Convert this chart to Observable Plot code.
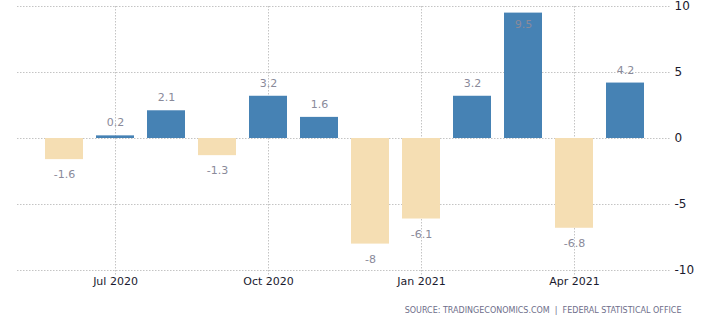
<!DOCTYPE html>
<html><head><meta charset="utf-8">
<script src="https://cdn.jsdelivr.net/npm/d3@7"></script>
<script src="https://cdn.jsdelivr.net/npm/@observablehq/plot@0.6"></script>
<style>body{margin:0;background:#fff;} #chart svg{display:block;}</style>
</head><body><div id="chart"></div>
<script>
const months = ["Jun 2020","Jul 2020","Aug 2020","Sep 2020","Oct 2020","Nov 2020","Dec 2020","Jan 2021","Feb 2021","Mar 2021","Apr 2021","May 2021"];
const values = [-1.6, 0.2, 2.1, -1.3, 3.2, 1.6, -8, -6.1, 3.2, 9.5, -6.8, 4.2];
const tickMonths = ["Jul 2020","Oct 2020","Jan 2021","Apr 2021"];
const yTicks = [-10, -5, 0, 5, 10];
const source = "SOURCE: TRADINGECONOMICS.COM  |  FEDERAL STATISTICAL OFFICE";

const data = months.map((m, i) => ({month: m, value: values[i]}));
const gridColor = "#c4c4c4";
const labelColor = "#8a8a9a";

const chart = Plot.plot({
  width: 701, height: 321,
  marginLeft: 17, marginRight: 31, marginTop: 6, marginBottom: 51,
  style: {fontFamily: "DejaVu Sans", fontSize: "11px", background: "#fff", overflow: "visible"},
  x: {type: "band", domain: months, range: [45, 644], paddingInner: 0.26, paddingOuter: 0, axis: null, label: null},
  y: {domain: [-10, 10], axis: null, label: null},
  marks: [
    Plot.gridY(yTicks, {stroke: gridColor, strokeOpacity: 1, strokeDasharray: "1.5,1.5"}),
    Plot.gridX(tickMonths, {stroke: gridColor, strokeOpacity: 1, strokeDasharray: "1.5,1.5"}),
    Plot.axisX(tickMonths, {anchor: "bottom", label: null, tickSize: 5, tickPadding: 2, stroke: gridColor, strokeDasharray: "1.5,1.5", fill: "#1a1a2e", fontSize: 11}),
    Plot.axisY(yTicks, {anchor: "right", label: null, tickSize: 0, tickPadding: 4, textAnchor: "start", fill: "#1a1a2e", fontSize: 12, tickFormat: d => String(d)}),
    Plot.barY(data, {filter: d => d.value >= 0, x: "month", y: "value", fill: "#4682b4"}),
    Plot.barY(data, {filter: d => d.value < 0, x: "month", y: "value", fill: "#f5deb3"}),
    Plot.text(data, {filter: d => d.value >= 0 && d.value < 9, x: "month", y: "value", text: d => String(d.value), dy: -13, fill: labelColor}),
    Plot.text(data, {filter: d => d.value >= 9, x: "month", y: "value", text: d => String(d.value), dy: 11, fill: labelColor}),
    Plot.text(data, {filter: d => d.value < 0, x: "month", y: "value", text: d => String(d.value), dy: 15, fill: labelColor}),
    Plot.text([source], {frameAnchor: "bottom-right", dx: 11, dy: 42, textAnchor: "end", text: d => d, fill: "#6e6e8a", fontSize: 8})
  ]
});
document.getElementById("chart").appendChild(chart);
</script>
</body></html>
